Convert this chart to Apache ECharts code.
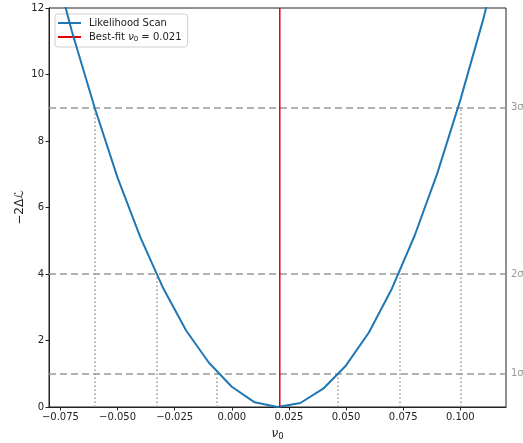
<!DOCTYPE html>
<html><head><meta charset="utf-8">
<script src="https://cdn.jsdelivr.net/npm/echarts@6/dist/echarts.min.js"></script>
<style>html,body{margin:0;padding:0;background:#fff}#c{width:523px;height:443px}</style>
</head><body><div id="c"></div>
<script>
// Scan points (nu_0) and -2 Delta log-likelihood
const nu0 = [-0.08,-0.07,-0.06,-0.05,-0.04,-0.03,-0.02,-0.01,0.00,0.01,0.02,0.03,0.04,0.05,0.06,0.07,0.08,0.09,0.10,0.11,0.12];
const deltaNLL = [13.9,11.3,9.0,6.9,5.1,3.57,2.3,1.33,0.61,0.14,0.0,0.12,0.55,1.25,2.24,3.55,5.15,7.04,9.23,11.65,14.4];
const bestFit = 0.021;
const sigmaLevels = [1, 4, 9];
const sigmaLabels = ['1σ', '2σ', '3σ'];
const crossLeft = [-0.0064, -0.0328, -0.0598];
const crossRight = [0.0462, 0.0735, 0.1001];
const xTicks = [-0.075, -0.05, -0.025, 0, 0.025, 0.05, 0.075, 0.1];
const yTicks = [0, 2, 4, 6, 8, 10, 12];

const FONT = 'DejaVu Sans';
const fmtX = v => { const s = Number(v).toFixed(3); return s.startsWith('-') ? '\u2212' + s.slice(1) : s; };
const LINE_ICON = 'path://M0,0L23,0L23,2L0,2Z';

const scanData = nu0.map((x, i) => [x, deltaNLL[i]]);
const hLines = sigmaLevels.map((lv, i) => ({
  yAxis: lv,
  label: { show: true, position: 'end', distance: 5, formatter: sigmaLabels[i], color: '#999', fontSize: 10, fontFamily: FONT }
}));
const vLines = [];
sigmaLevels.forEach((lv, i) => {
  vLines.push([{ coord: [crossLeft[i], 0] }, { coord: [crossLeft[i], lv] }]);
  vLines.push([{ coord: [crossRight[i], 0] }, { coord: [crossRight[i], lv] }]);
});

const chart = echarts.init(document.getElementById('c'), null, { renderer: 'canvas' });
chart.setOption({
  animation: false,
  textStyle: { fontFamily: FONT },
  grid: { left: 49, top: 8, width: 457, height: 399, show: true, borderColor: '#222', borderWidth: 1, backgroundColor: 'transparent', containLabel: false, outerBoundsMode: 'none' },
  xAxis: {
    type: 'value', min: -0.08, max: 0.12,
    splitLine: { show: false },
    axisLine: { show: true, onZero: false, lineStyle: { color: '#222' } },
    axisTick: { show: true, length: 3.5, lineStyle: { color: '#222' }, customValues: xTicks },
    axisLabel: { customValues: xTicks, formatter: fmtX, color: '#222', fontSize: 10, margin: 5, fontFamily: FONT },
    name: '{i|ν}{s|0}', nameLocation: 'middle', nameGap: 19, nameMoveOverlap: false,
    nameTextStyle: { rich: {
      i: { fontSize: 12, fontStyle: 'italic', color: '#222', fontFamily: FONT },
      s: { fontSize: 8.5, color: '#222', verticalAlign: 'bottom', padding: [6, 0, 0, 0], fontFamily: FONT }
    } }
  },
  yAxis: {
    type: 'value', min: 0, max: 12, interval: 2,
    splitLine: { show: false },
    axisLine: { show: true, onZero: false, lineStyle: { color: '#222' } },
    axisTick: { show: true, length: 3.5, lineStyle: { color: '#222' }, customValues: yTicks },
    axisLabel: { customValues: yTicks, color: '#222', fontSize: 10, margin: 5, fontFamily: FONT },
    name: '\u22122\u0394\u2112', nameLocation: 'middle', nameGap: 23, nameRotate: 90, nameMoveOverlap: false,
    nameTextStyle: { fontSize: 12, color: '#222', fontFamily: FONT }
  },
  legend: {
    orient: 'vertical', left: 55, top: 14,
    padding: [4, 6, 4, 3], itemGap: 4, itemWidth: 23, itemHeight: 12,
    borderColor: '#d0d0d0', borderWidth: 1, borderRadius: 3, backgroundColor: 'rgba(255,255,255,0.85)',
    data: [
      { name: 'Likelihood Scan', icon: LINE_ICON },
      { name: 'Best-fit', icon: LINE_ICON }
    ],
    formatter: name => name === 'Best-fit' ? '{t|Best-fit }{i|ν}{s|0}{t| = 0.021}' : '{t|' + name + '}',
    textStyle: { padding: [0, 0, 0, 3], rich: {
      t: { fontSize: 10, color: '#222', fontFamily: FONT },
      i: { fontSize: 10, fontStyle: 'italic', color: '#222', fontFamily: FONT },
      s: { fontSize: 7, color: '#222', verticalAlign: 'bottom', padding: [5, 0, 0, 0], fontFamily: FONT }
    } }
  },
  series: [
    {
      name: 'Likelihood Scan', type: 'line', data: scanData, symbol: 'none', clip: true, z: 5,
      lineStyle: { color: '#1f77b4', width: 2 }, itemStyle: { color: '#1f77b4' },
      markLine: {
        silent: true, symbol: 'none', animation: false, z: 1,
        lineStyle: { color: '#999', width: 1.5, type: [7, 4] },
        data: hLines
      }
    },
    {
      name: 'crossings', type: 'line', data: [], z: 2,
      markLine: {
        silent: true, symbol: 'none', animation: false, label: { show: false },
        lineStyle: { color: '#999', width: 1.5, type: [1.5, 2.5] },
        data: vLines
      }
    },
    {
      name: 'Best-fit', type: 'line', data: [[bestFit, 0], [bestFit, 12]], symbol: 'none', z: 6,
      lineStyle: { color: '#e00000', width: 1.5 }, itemStyle: { color: '#e00000' }
    }
  ]
});
</script>
</body></html>
